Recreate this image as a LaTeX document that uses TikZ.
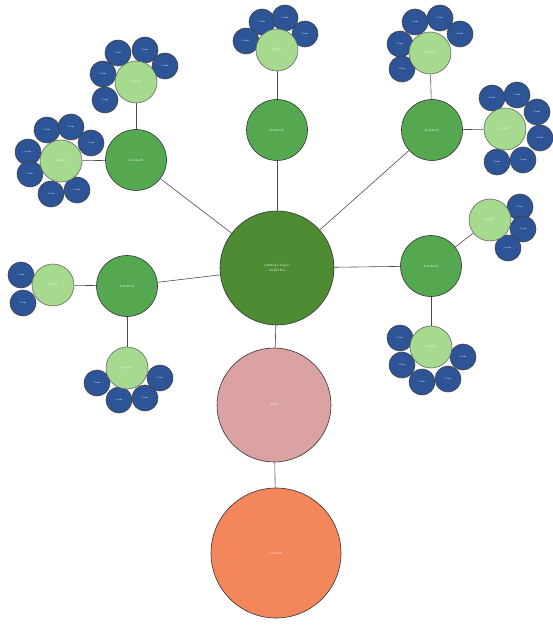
\documentclass[tikz,border=0pt]{standalone}
\usepackage{tikz}
\usetikzlibrary{positioning}
\definecolor{hubgreen}{RGB}{78,140,52}
\definecolor{midgreen}{RGB}{86,168,80}
\definecolor{lightgreen}{RGB}{166,218,142}
\definecolor{leafblue}{RGB}{44,84,150}
\definecolor{goalpink}{RGB}{218,162,162}
\definecolor{resultorange}{RGB}{244,134,92}

\begin{document}
\begin{tikzpicture}
            [x=1pt, y=-1pt, semithick,
            bubble/.style={circle, draw=black!80, inner sep=0pt, align=center, text=white, font=\fontsize{3.5}{4}\selectfont},
            hub/.style={bubble, fill=hubgreen, minimum size=114pt},
            goal/.style={bubble, fill=goalpink, minimum size=114pt},
            result/.style={bubble, fill=resultorange, minimum size=130pt},
            branch/.style={bubble, fill=midgreen, minimum size=61pt},
            topic/.style={bubble, fill=lightgreen, draw=black!60, minimum size=42pt},
            leaf/.style={bubble, fill=leafblue, draw=black!75, minimum size=26pt, font=\fontsize{2.5}{3}\selectfont},
            link/.style={draw=black!70}]

            \useasboundingbox (0,0) rectangle (552,628);

            % leaves behind the topics
            \foreach \x/\y [count=\i] in {118/53, 145/50, 165/66, 103/74, 105/100}
                \node[leaf] (la\i) at (\x,\y) {item};
            \foreach \x/\y [count=\i] in {47/130, 71/127, 91/143, 28/152, 30/174, 51/194, 77/190}
                \node[leaf] (lb\i) at (\x,\y) {item};
            \foreach \x/\y [count=\i] in {262/22, 285/18, 305/34, 246/41}
                \node[leaf] (lc\i) at (\x,\y) {item};
            \foreach \x/\y [count=\i] in {415/22, 440/18, 460/34, 400/44, 402/69}
                \node[leaf] (ld\i) at (\x,\y) {item};
            \foreach \x/\y [count=\i] in {492/98, 517/95, 537/112, 540/138, 523/160, 497/162}
                \node[leaf] (le\i) at (\x,\y) {item};
            \foreach \x/\y [count=\i] in {520/207, 523/229, 508/248}
                \node[leaf] (lf\i) at (\x,\y) {item};
            \foreach \x/\y [count=\i] in {400/338, 402/365, 422/382, 448/379, 463/357}
                \node[leaf] (lg\i) at (\x,\y) {item};
            \foreach \x/\y [count=\i] in {21/275, 23/303}
                \node[leaf] (lh\i) at (\x,\y) {item};
            \foreach \x/\y [count=\i] in {97/383, 119/400, 145/398, 160/378}
                \node[leaf] (li\i) at (\x,\y) {item};

            % topics
            \node[topic] (ta) at (136,82)  {topic};
            \node[topic] (tb) at (61,161)  {topic};
            \node[topic] (tc) at (277,50)  {topic};
            \node[topic] (td) at (430,53)  {topic};
            \node[topic] (te) at (505,129) {topic};
            \node[topic] (tf) at (490,220) {topic};
            \node[topic] (tg) at (431,347) {topic};
            \node[topic] (th) at (53,285)  {topic};
            \node[topic] (ti) at (127,368) {topic};

            % branches
            \node[branch] (bul) at (136,160) {branch};
            \node[branch] (bup) at (277,130) {branch};
            \node[branch] (bur) at (432,130) {branch};
            \node[branch] (blf) at (127,286) {branch};
            \node[branch] (brt) at (431,266) {branch};

            % main column
            \node[hub] (hub) at (277,268) {central topic\\[1pt] subtitle};
            \node[goal] (goal) at (274,405) {goal};
            \node[result] (result) at (276,553) {result};

            \draw[link] (hub) -- (bul);
            \draw[link] (hub) -- (bup);
            \draw[link] (hub) -- (bur);
            \draw[link] (hub) -- (blf);
            \draw[link] (hub) -- (brt);
            \draw[link] (hub) -- (goal);
            \draw[link] (goal) -- (result);

            \draw[link] (bul) -- (ta);
            \draw[link] (bul) -- (tb);
            \draw[link] (bup) -- (tc);
            \draw[link] (bur) -- (td);
            \draw[link] (bur) -- (te);
            \draw[link] (brt) -- (tf);
            \draw[link] (brt) -- (tg);
            \draw[link] (blf) -- (th);
            \draw[link] (blf) -- (ti);

          \end{tikzpicture}
\end{document}
